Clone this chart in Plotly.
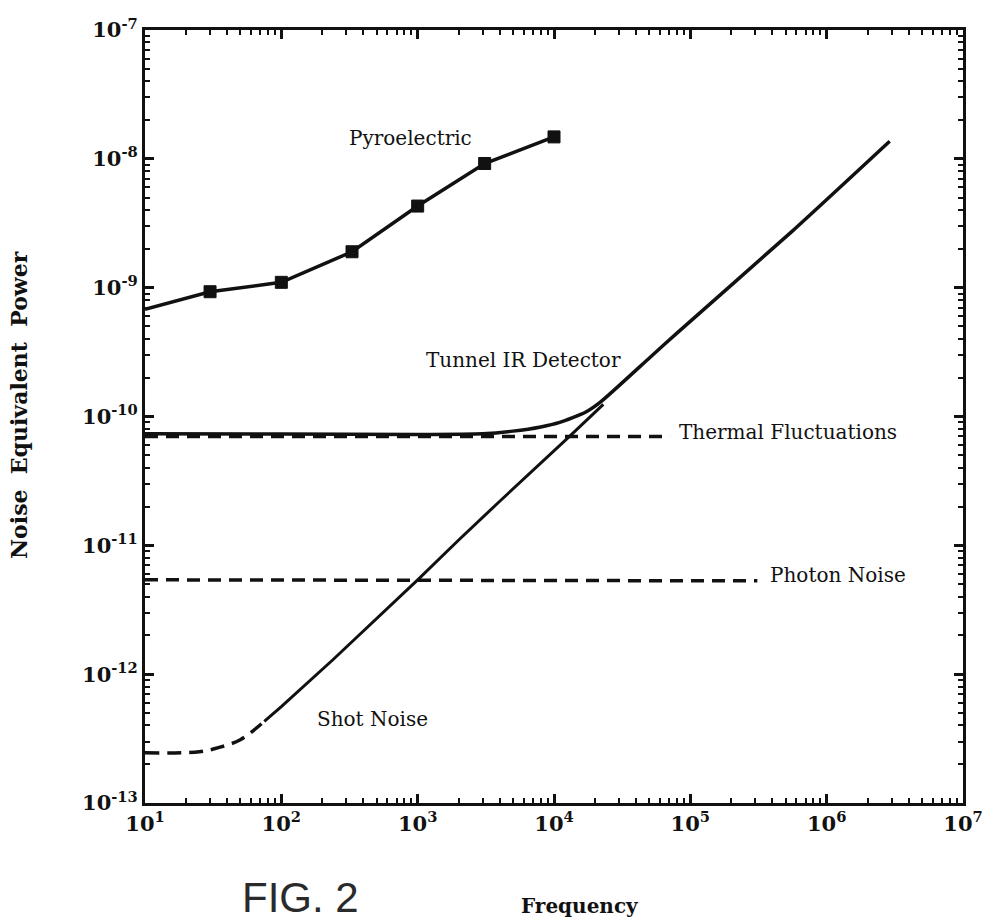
import plotly.graph_objects as go

# ---- data ----
pyro_freq = [10, 30, 100, 330, 1000, 3100, 10000]
pyro_nep = [6.8e-10, 9.3e-10, 1.1e-9, 1.9e-9, 4.3e-9, 9.2e-9, 1.48e-8]

detector_freq = [10, 100, 1000, 3000, 5000, 8000, 11000, 17000, 22000, 51000, 79000, 560000, 2.9e6]
detector_nep = [7.35e-11, 7.3e-11, 7.25e-11, 7.35e-11, 7.7e-11, 8.3e-11, 9.0e-11, 1.08e-10, 1.3e-10,
                2.9e-10, 4.4e-10, 2.75e-9, 1.37e-8]

thermal_freq = [10, 7.1e4]
thermal_nep = [7.0e-11, 7.0e-11]

photon_freq = [10, 3.1e5]
photon_nep = [5.4e-12, 5.3e-12]

shot_low_freq = [10, 25, 35, 50, 75]
shot_low_nep = [2.45e-13, 2.5e-13, 2.7e-13, 3.1e-13, 4.3e-13]

shot_freq = [75, 100, 240, 1000, 2000, 4000, 13000, 23000]
shot_nep = [4.3e-13, 5.6e-13, 1.3e-12, 5.4e-12, 1.1e-11, 2.2e-11, 7.0e-11, 1.24e-10]

x_tick_vals = [1e1, 1e2, 1e3, 1e4, 1e5, 1e6, 1e7]
x_tick_text = ["10<sup>1</sup>", "10<sup>2</sup>", "10<sup>3</sup>", "10<sup>4</sup>",
               "10<sup>5</sup>", "10<sup>6</sup>", "10<sup>7</sup>"]
y_tick_vals = [1e-13, 1e-12, 1e-11, 1e-10, 1e-9, 1e-8, 1e-7]
y_tick_text = ["10<sup>-13</sup>", "10<sup>-12</sup>", "10<sup>-11</sup>", "10<sup>-10</sup>",
               "10<sup>-9</sup>", "10<sup>-8</sup>", "10<sup>-7</sup>"]

labels = [
    ("Pyroelectric", 2.944, -7.839, "center"),
    ("Tunnel IR Detector", 3.773, -9.562, "center"),
    ("Thermal Fluctuations", 4.903, -10.117, "left"),
    ("Photon Noise", 5.571, -11.227, "left"),
    ("Shot Noise", 2.665, -12.348, "center"),
]

BLACK = "#111111"
SERIF = "DejaVu Serif"

# plot area in page pixels: left 145, right 963, top 30, bottom 803
def px_x(px):
    return (px - 145) / 818


def px_y(py):
    return (803 - py) / 773


fig = go.Figure()

fig.add_trace(go.Scatter(x=thermal_freq, y=thermal_nep, mode="lines",
                         line=dict(color=BLACK, width=3.5, dash="13px,8px")))
fig.add_trace(go.Scatter(x=photon_freq, y=photon_nep, mode="lines",
                         line=dict(color=BLACK, width=3.5, dash="13px,8px")))
fig.add_trace(go.Scatter(x=shot_low_freq, y=shot_low_nep, mode="lines",
                         line=dict(color=BLACK, width=3.5, dash="14px,8px", shape="spline")))
fig.add_trace(go.Scatter(x=shot_freq, y=shot_nep, mode="lines",
                         line=dict(color=BLACK, width=3)))
fig.add_trace(go.Scatter(x=detector_freq, y=detector_nep, mode="lines",
                         line=dict(color=BLACK, width=3.5, shape="spline", smoothing=0.6)))
fig.add_trace(go.Scatter(x=pyro_freq, y=pyro_nep, mode="lines+markers",
                         line=dict(color=BLACK, width=3.5),
                         marker=dict(symbol="square", color=BLACK, opacity=1,
                                     line=dict(color=BLACK, width=1),
                                     size=[0] + [12] * (len(pyro_freq) - 1))))

for text, lx, ly, anchor in labels:
    fig.add_annotation(x=lx, y=ly, xref="x", yref="y", text=text, showarrow=False,
                       xanchor=anchor, yanchor="middle",
                       font=dict(family=SERIF, size=20, color=BLACK))

fig.add_annotation(x=px_x(300), y=px_y(923), xref="paper", yref="paper",
                   text="FIG. 2", showarrow=False, xanchor="center", yanchor="bottom",
                   font=dict(family="Liberation Sans", size=42, color="#2a2a2a"))
fig.add_annotation(x=px_x(580), y=px_y(906), xref="paper", yref="paper",
                   text="Frequency", showarrow=False, xanchor="center", yanchor="middle",
                   font=dict(family=SERIF, size=20, color=BLACK, weight="bold"))
fig.add_annotation(x=px_x(19), y=px_y(405), xref="paper", yref="paper",
                   text="Noise  Equivalent  Power", showarrow=False, textangle=-90,
                   xanchor="center", yanchor="middle",
                   font=dict(family=SERIF, size=22, color=BLACK, weight="bold"))

axis_common = dict(
    type="log", showline=True, linecolor=BLACK, linewidth=3, mirror="allticks",
    ticks="inside", ticklen=9, tickwidth=2.5, tickcolor=BLACK, showgrid=False, zeroline=False,
    automargin=False,
    minor=dict(ticks="inside", ticklen=5, tickwidth=2, tickcolor=BLACK, showgrid=False, dtick="D1"),
    tickfont=dict(family=SERIF, size=21, color=BLACK, weight="bold"),
)

fig.update_xaxes(**axis_common, range=[1, 7], tickmode="array",
                 tickvals=x_tick_vals, ticktext=x_tick_text)
fig.update_yaxes(**axis_common, range=[-13, -7], tickmode="array",
                 tickvals=y_tick_vals, ticktext=y_tick_text)

fig.update_layout(
    width=991, height=923, showlegend=False,
    margin=dict(l=145, r=28, t=30, b=120),
    paper_bgcolor="white", plot_bgcolor="white",
)

# remove the browser's default 8px body margin so the figure fills the window exactly
fig.write_html("out.html", config={"displayModeBar": False},
               post_script="document.body.style.margin='0';document.body.style.overflow='hidden';")
